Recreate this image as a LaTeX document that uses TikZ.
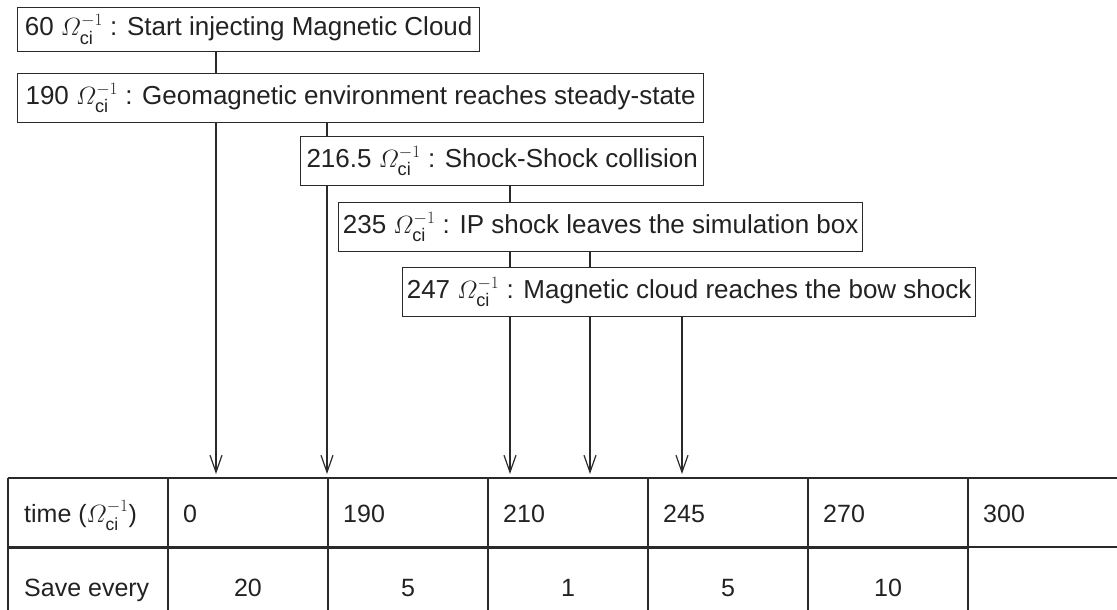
\documentclass[tikz,border=0pt]{standalone}
\usepackage{amsmath}
\usepackage{fontspec}
\setsansfont{Liberation Sans}
\usetikzlibrary{arrows.meta}
\DeclareMathSymbol{\itOmega}{\mathalpha}{letters}{"0A}
\newcommand{\om}{$\itOmega_{\text{ci}}^{-1}$}
\newcommand{\fsz}{\sffamily\fontsize{26}{31}\selectfont}
\newcommand{\tsz}{\sffamily\fontsize{25}{30}\selectfont}
\definecolor{ink}{HTML}{222222}
\definecolor{ln}{HTML}{2A2A2A}
\begin{document}
\begin{tikzpicture}[x=1pt,y=-1pt,
  box/.style={draw=ln, line width=1.3pt, fill=white, text=ink, font=\fsz, anchor=north west, minimum height=49pt, inner xsep=0pt, inner ysep=0pt},
  conn/.style={draw=ln, line width=1.2pt},
  arr/.style={conn, -{Straight Barb[length=17pt,width=12pt,line width=1.2pt]}},
  cell/.style={text=ink, font=\tsz, anchor=base west, inner sep=0pt},
  ctr/.style={text=ink, font=\tsz, anchor=base, inner sep=0pt},
  grid/.style={draw=ln, line width=1.2pt}]
\useasboundingbox (0,0) rectangle (1117,610);
\clip (0,0) rectangle (1117,610);

% event boxes
\node[box, minimum width=462pt, minimum height=44pt] (b1) at (17,7) {60 \om{} : Start injecting Magnetic Cloud};
\node[box, minimum width=686pt] (b2) at (17,73)  {190 \om{} : Geomagnetic environment reaches steady-state};
\node[box, minimum width=403pt] (b3) at (300,136) {216.5 \om{} : Shock-Shock collision};
\node[box, minimum width=524pt] (b4) at (338,202) {235 \om{} : IP shock leaves the simulation box};
\node[box, minimum width=573pt] (b5) at (402,267) {247 \om{} : Magnetic cloud reaches the bow shock};

% connector columns and arrow ends on the table
\coordinate (cA) at (216,0);
\coordinate (cB) at (327,0);
\coordinate (cC) at (510,0);
\coordinate (cD) at (590,0);
\coordinate (cE) at (682,0);
\coordinate (tA) at (216,474);
\coordinate (tB) at (327,474);
\coordinate (tC) at (510,474);
\coordinate (tD) at (590,474);
\coordinate (tE) at (682,474);

\draw[conn] (b1.south -| cA) -- (b2.north -| cA);
\draw[arr]  (b2.south -| cA) -- (tA);
\draw[conn] (b2.south -| cB) -- (b3.north -| cB);
\draw[arr]  (b3.south -| cB) -- (tB);
\draw[conn] (b3.south -| cC) -- (b4.north -| cC);
\draw[conn] (b4.south -| cC) -- (b5.north -| cC);
\draw[arr]  (b5.south -| cC) -- (tC);
\draw[conn] (b4.south -| cD) -- (b5.north -| cD);
\draw[arr]  (b5.south -| cD) -- (tD);
\draw[arr]  (b5.south -| cE) -- (tE);

% table grid
\draw[grid] (8,478) -- (1117,478);
\draw[draw=ln, line width=3pt] (8,547) -- (968,547);
\draw[grid] (968,547) -- (1117,547);
\foreach \x in {8,168,328,488,648,808,968} \draw[grid] (\x,478) -- (\x,615);

% table texts
\node[cell] (h1) at (24,522)  {time (\om)};
\node[cell] (v1) at (183,522) {0};
\node[cell] (v2) at (343,522) {190};
\node[cell] (v3) at (503,522) {210};
\node[cell] (v4) at (663,522) {245};
\node[cell] (v5) at (823,522) {270};
\node[cell] (v6) at (983,522) {300};
\node[cell] (h2) at (24,596)  {Save every};
\node[ctr] (s1) at (248,596) {20};
\node[ctr] (s2) at (408,596) {5};
\node[ctr] (s3) at (568,596) {1};
\node[ctr] (s4) at (728,596) {5};
\node[ctr] (s5) at (888,596) {10};
\end{tikzpicture}
\end{document}
